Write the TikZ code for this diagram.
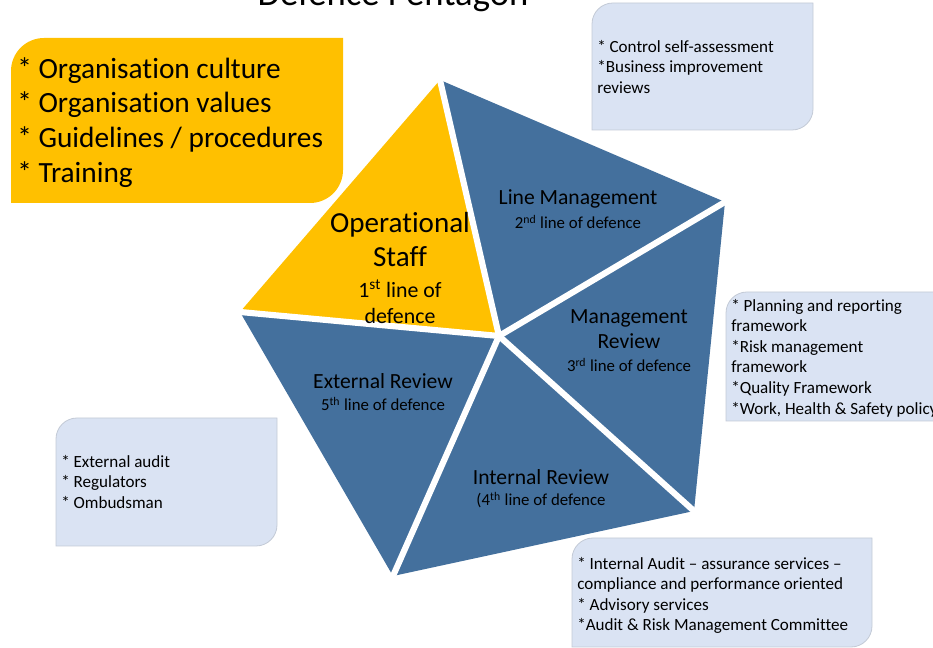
\documentclass[tikz,border=0pt]{standalone}
\usepackage{fontspec}
\setmainfont{Carlito}[RawFeature={-liga,-clig,-calt}]
\usepackage{xcolor}
\definecolor{penYellow}{HTML}{FFC000}
\definecolor{penBlue}{HTML}{44709D}
\definecolor{noteFill}{HTML}{DAE3F3}
\definecolor{noteEdge}{HTML}{C3CAD6}

\begin{document}
\begin{tikzpicture}[x=0.75pt,y=0.75pt,yscale=-1,xscale=1,
	note/.style={fill=noteFill,draw=noteEdge,line width=0.6pt},
	notetext/.style={anchor=north west,inner sep=0pt,align=left,font=\fontsize{12.8}{15.4}\selectfont},
	gap/.style={draw=white,line width=4.6pt,shorten <=-2pt,shorten >=-3pt},
	segname/.style={align=center,inner sep=0.75pt,font=\fontsize{16.2}{18.75}\selectfont},
	segline/.style={align=center,inner sep=0.75pt,font=\fontsize{12.6}{14}\selectfont}]
				\clip (0,0) rectangle (933,648);

				% Title
				\node [anchor=base,font=\fontsize{27.5}{32}\selectfont] (title) at (393,6) {Defence Pentagon};

				%Shape: Round Diagonal Corner Rectangle [yellow notes]
				\fill [penYellow] (11,71) arc [start angle=180,end angle=270,radius=33] -- (343,38) -- (343,170) arc [start angle=0,end angle=90,radius=33] -- (11,203) -- cycle ;
				%Shape: Round Diagonal Corner Rectangle [top right]
				\draw [note] (592,24) arc [start angle=180,end angle=270,radius=21] -- (813,3) -- (813,109) arc [start angle=0,end angle=90,radius=21] -- (592,130) -- cycle ;
				%Shape: Round Diagonal Corner Rectangle [right]
				\draw [note] (726,313) arc [start angle=180,end angle=270,radius=21] -- (960,292) -- (960,400) arc [start angle=0,end angle=90,radius=21] -- (726,421) -- cycle ;
				%Shape: Round Diagonal Corner Rectangle [left]
				\draw [note] (56,439) arc [start angle=180,end angle=270,radius=21] -- (277,418) -- (277,525) arc [start angle=0,end angle=90,radius=21] -- (56,546) -- cycle ;
				%Shape: Round Diagonal Corner Rectangle [bottom]
				\draw [note] (572,559) arc [start angle=180,end angle=270,radius=21] -- (872,538) -- (872,626) arc [start angle=0,end angle=90,radius=21] -- (572,647) -- cycle ;

				% Pentagon corners
				\coordinate (hub) at (499,336);
				\coordinate (v1) at (440,80);
				\coordinate (v2) at (725,202);
				\coordinate (v3) at (694,511);
				\coordinate (v4) at (393,576);
				\coordinate (v5) at (240,312);

				%Shape: Triangle [1st line]
				\fill [penYellow] (hub) -- (v5) -- (v1) -- cycle ;
				%Shape: Triangle [2nd line]
				\fill [penBlue] (hub) -- (v1) -- (v2) -- cycle ;
				%Shape: Triangle [3rd line]
				\fill [penBlue] (hub) -- (v2) -- (v3) -- cycle ;
				%Shape: Triangle [4th line]
				\fill [penBlue] (hub) -- (v3) -- (v4) -- cycle ;
				%Shape: Triangle [5th line]
				\fill [penBlue] (hub) -- (v4) -- (v5) -- cycle ;

				%Straight Lines [gaps]
				\draw [gap] (hub) -- (v1) ;
				\draw [gap] (hub) -- (v2) ;
				\draw [gap] (hub) -- (v3) ;
				\draw [gap] (hub) -- (v4) ;
				\draw [gap] (hub) -- (v5) ;

				% Text Node
				\node [align=center,inner sep=0.75pt,font=\fontsize{21.8}{25.5}\selectfont] (opname) at (400,240) {Operational\\Staff};
				% Text Node
				\node [align=center,inner sep=0.75pt,font=\fontsize{16.4}{19.5}\selectfont] (opline) at (400,302) {1\textsuperscript{st} line of\\defence};
				% Text Node
				\node [segname] (lmname) at (578,199) {Line Management};
				% Text Node
				\node [segline] (lmline) at (578,222) {2\textsuperscript{nd} line of defence};
				% Text Node
				\node [segname] (mrname) at (629,329.5) {Management\\Review};
				% Text Node
				\node [segline] (mrline) at (629,365) {3\textsuperscript{rd} line of defence};
				% Text Node
				\node [segname] (irname) at (541,477) {Internal Review};
				% Text Node
				\node [segline] (irline) at (541,500) {(4\textsuperscript{th} line of defence};
				% Text Node
				\node [segname] (ername) at (383,381) {External Review};
				% Text Node
				\node [segline] (erline) at (383,404) {5\textsuperscript{th} line of defence};

				% Text Node
				\node [notetext,font=\fontsize{22}{26}\selectfont] (culture) at (17,57) {* Organisation culture\\* Organisation values\\* Guidelines / procedures\\* Training};
				% Text Node
				\node [notetext] (selfcheck) at (597,40) {* Control self-assessment\\*Business improvement\\reviews};
				% Text Node
				\node [notetext] (frameworks) at (731,299) {* Planning and reporting\\framework\\*Risk management\\framework\\*Quality Framework\\*Work, Health \& Safety policy};
				% Text Node
				\node [notetext] (outside) at (61,455) {* External audit\\* Regulators\\* Ombudsman};
				% Text Node
				\node [notetext] (audit) at (577,557) {* Internal Audit – assurance services –\\compliance and performance oriented\\* Advisory services\\*Audit \& Risk Management Committee};

			\end{tikzpicture}
\end{document}
